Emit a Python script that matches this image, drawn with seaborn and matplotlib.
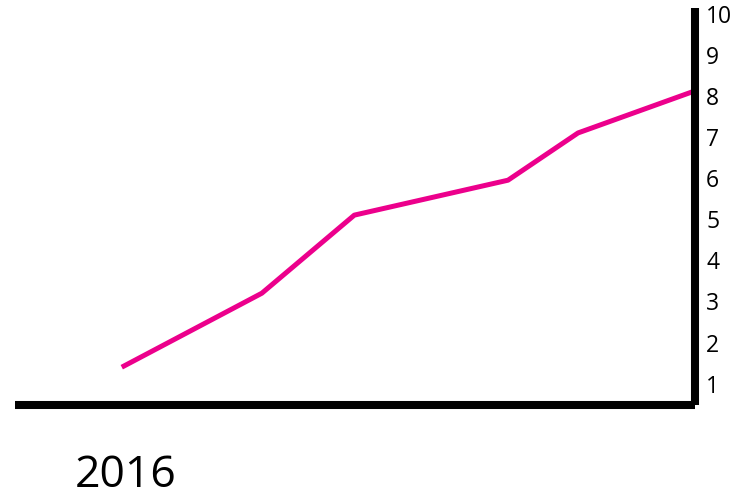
import pandas as pd
import matplotlib
matplotlib.use("Agg")
import matplotlib.pyplot as plt
import seaborn as sns

# values
x_pos = [1.57, 3.63, 4.99, 7.25, 8.28, 9.96]
values = [1.4, 3.2, 5.1, 5.95, 7.1, 8.1]
y_ticks = [1, 2, 3, 4, 5, 6, 7, 8, 9, 10]
year_label = "2016"

sns.set_style("white")
plt.rcParams["font.family"] = ["Open Sans", "DejaVu Sans"]
plt.rcParams["text.color"] = "black"

df = pd.DataFrame({"x": x_pos, "value": values})

fig = plt.figure(figsize=(7.38, 4.99), dpi=100)
ax = fig.add_axes([15 / 738, 1 - 405 / 499, 680 / 738, 397 / 499])

sns.lineplot(data=df, x="x", y="value", color="#EC008C", linewidth=3.6,
             solid_capstyle="butt", ax=ax)

ax.set_xlim(0, 10)
ax.set_ylim(0.48, 10.14)
ax.set_xticks([])
ax.set_yticks(y_ticks)
ax.yaxis.tick_right()
ax.tick_params(axis="y", length=0, pad=8, labelsize=16.5, labelcolor="black")
ax.set_xlabel("")
ax.set_ylabel("")

for side in ["left", "top"]:
    ax.spines[side].set_visible(False)
for side in ["right", "bottom"]:
    ax.spines[side].set_linewidth(5.8)
    ax.spines[side].set_color("black")
    ax.spines[side].set_capstyle("butt")

fig.text(75 / 738, 1 - 487 / 499, year_label, fontsize=32, va="baseline",
         ha="left", color="black")

fig.savefig("out.png", dpi=100)
